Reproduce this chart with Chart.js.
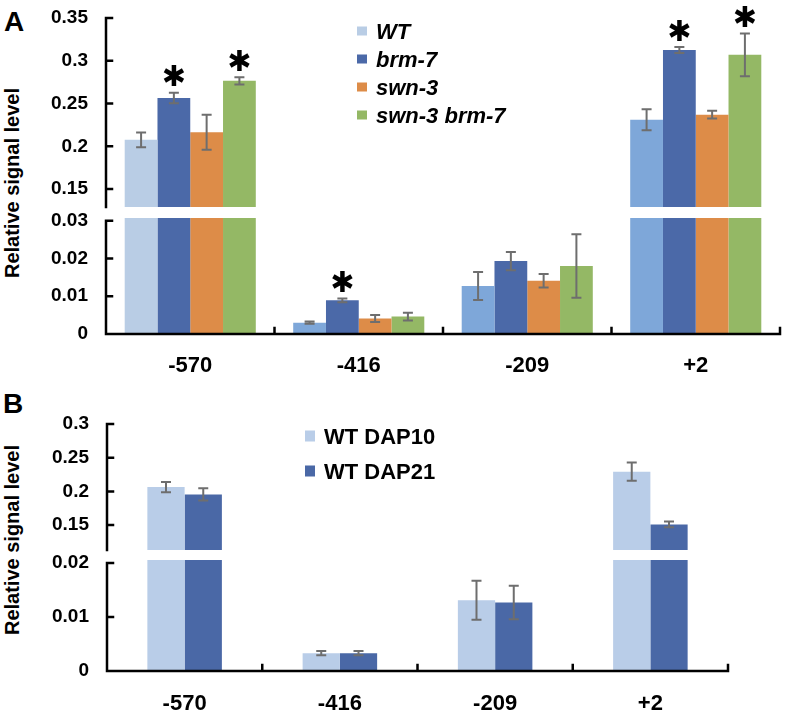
<!DOCTYPE html>
<html>
<head>
<meta charset="utf-8">
<script src="https://cdn.jsdelivr.net/npm/chart.js@4.4.0/dist/chart.umd.min.js"></script>
<style>
  body { margin: 0; background: #fff; }
  #wrap { position: relative; width: 785px; height: 711px; overflow: hidden; font-family: "Liberation Sans", Arial, sans-serif; }
  canvas { position: absolute; left: 0; }
  .panel { position: absolute; font-weight: bold; font-size: 28px; line-height: 1; transform: translate(-50%, -50%); }
  .ytitle { position: absolute; font-weight: bold; font-size: 20px; line-height: 1; white-space: nowrap; transform: translate(-50%, -50%) rotate(-90deg); }
</style>
</head>
<body>
<div id="wrap">
  <div class="panel" style="left:14px;top:22px">A</div>
  <div class="panel" style="left:13px;top:404px">B</div>
  <div class="ytitle" style="left:12px;top:183px">Relative signal level</div>
  <div class="ytitle" style="left:12px;top:540px">Relative signal level</div>
  <canvas id="aTop" width="785" height="213" style="top:6px"></canvas>
  <canvas id="aLow" width="785" height="174" style="top:206px"></canvas>
  <canvas id="bTop" width="785" height="150" style="top:412px"></canvas>
  <canvas id="bLow" width="785" height="163" style="top:548px"></canvas>
</div>
<script>
const sites = ["-570", "-416", "-209", "+2"];

// panel A
const genotypes = ["WT", "brm-7", "swn-3", "swn-3 brm-7"];
const wt = [0.2075, 0.003, 0.0127, 0.231];
const wtErr = [0.0085, 0.0003, 0.0037, 0.0123];
const brm7 = [0.2565, 0.0089, 0.0193, 0.3125];
const brm7Err = [0.0062, 0.0005, 0.0024, 0.0035];
const swn3 = [0.2165, 0.0041, 0.0141, 0.237];
const swn3Err = [0.0205, 0.0009, 0.0018, 0.0045];
const swn3brm7 = [0.2765, 0.0046, 0.018, 0.307];
const swn3brm7Err = [0.0042, 0.001, 0.0084, 0.025];
// asterisks (significant vs WT)
const brm7Star = [true, true, false, true];
const swn3brm7Star = [true, false, false, true];
const aTopTicks = [0.15, 0.2, 0.25, 0.3, 0.35];
const aLowTicks = [0, 0.01, 0.02, 0.03];

// panel B
const stages = ["WT DAP10", "WT DAP21"];
const dap10 = [0.2064, 0.0033, 0.0131, 0.2292];
const dap10Err = [0.0077, 0.0004, 0.0036, 0.0135];
const dap21 = [0.1955, 0.0033, 0.0127, 0.151];
const dap21Err = [0.009, 0.0004, 0.0031, 0.0043];
const bTopTicks = [0.15, 0.2, 0.25, 0.3];
const bLowTicks = [0, 0.01, 0.02];

const FONT = "Liberation Sans, Arial, sans-serif";

// axis lines with inward ticks
function drawAxes(chart, opts) {
  const ctx = chart.ctx;
  const area = chart.chartArea;
  const x = chart.scales.x;
  const y = chart.scales.y;
  const yTop = y.getPixelForValue(y.ticks[y.ticks.length - 1].value);
  ctx.save();
  ctx.strokeStyle = "#000";
  ctx.lineWidth = 2.5;
  ctx.lineCap = "square";
  ctx.beginPath();
  ctx.moveTo(area.left, yTop);
  ctx.lineTo(area.left, area.bottom);
  y.ticks.forEach(t => {
    const py = y.getPixelForValue(t.value);
    ctx.moveTo(area.left, py);
    ctx.lineTo(area.left + 6, py);
  });
  if (opts.xAxis) {
    ctx.moveTo(area.left, area.bottom);
    ctx.lineTo(area.right, area.bottom);
    for (let i = 1; i <= chart.data.labels.length; i++) {
      const px = x.getPixelForValue(i - 0.5);
      ctx.moveTo(px, area.bottom);
      ctx.lineTo(px, area.bottom - 6);
    }
  }
  ctx.stroke();
  ctx.restore();
}

// error bars, asterisks, legend
const marksPlugin = {
  id: "marks",
  afterDraw(chart, args, opts) {
    const ctx = chart.ctx;
    const area = chart.chartArea;
    const y = chart.scales.y;

    ctx.save();
    ctx.beginPath();
    ctx.rect(area.left, area.top, area.right - area.left, area.bottom - area.top);
    ctx.clip();
    ctx.strokeStyle = "#6e6e6e";
    ctx.lineWidth = 2;
    chart.data.datasets.forEach((ds, i) => {
      chart.getDatasetMeta(i).data.forEach((bar, j) => {
        const hi = y.getPixelForValue(ds.data[j] + ds.err[j]);
        const lo = y.getPixelForValue(ds.data[j] - ds.err[j]);
        ctx.beginPath();
        ctx.moveTo(bar.x, hi);
        ctx.lineTo(bar.x, lo);
        ctx.moveTo(bar.x - 5, hi);
        ctx.lineTo(bar.x + 5, hi);
        ctx.moveTo(bar.x - 5, lo);
        ctx.lineTo(bar.x + 5, lo);
        ctx.stroke();
      });
    });
    ctx.restore();

    drawAxes(chart, opts);

    // asterisks
    ctx.save();
    ctx.fillStyle = "#000";
    ctx.textAlign = "center";
    ctx.font = "bold 100px DejaVu Sans";
    const m0 = ctx.measureText("✱");
    const size = 100 * 21 / (m0.actualBoundingBoxAscent + m0.actualBoundingBoxDescent);
    ctx.font = "bold " + size.toFixed(1) + "px DejaVu Sans";
    const m = ctx.measureText("✱");
    chart.data.datasets.forEach((ds, i) => {
      if (!ds.stars) return;
      chart.getDatasetMeta(i).data.forEach((bar, j) => {
        const v = ds.data[j];
        if (!ds.stars[j] || v < y.min || v > y.max) return;
        const cy = y.getPixelForValue(v + ds.err[j]) - 17;
        ctx.fillText("✱", bar.x, cy + (m.actualBoundingBoxAscent - m.actualBoundingBoxDescent) / 2);
      });
    });
    ctx.restore();

    if (opts.legend) {
      const lg = opts.legend;
      ctx.save();
      ctx.font = lg.font;
      ctx.textBaseline = "middle";
      chart.data.datasets.forEach((ds, i) => {
        const ry = lg.y + i * lg.step;
        ctx.fillStyle = ds.legendColor || ds.backgroundColor;
        ctx.fillRect(lg.x, ry - lg.box / 2 - 2, 10, lg.box);
        ctx.fillStyle = "#000";
        ctx.fillText(ds.label, lg.x + 19, ry);
      });
      ctx.restore();
    }
  }
};

function segment(id, datasets, lim, ticks, o) {
  return new Chart(document.getElementById(id), {
    type: "bar",
    data: { labels: sites, datasets },
    options: {
      responsive: false,
      animation: false,
      layout: { padding: { top: 12, right: o.right, bottom: o.xAxis ? 0 : 12, left: 0 } },
      datasets: { bar: { categoryPercentage: o.cat, barPercentage: 1, clip: 0 } },
      scales: {
        x: {
          display: o.xAxis,
          grid: { display: false, drawTicks: false },
          border: { display: false },
          ticks: { color: "#000", padding: o.xPad || 0, font: { family: FONT, size: 22, weight: "bold" } },
          afterFit: s => { if (o.xAxis) s.height = o.xH; }
        },
        y: {
          min: lim[0],
          max: lim[1],
          grid: { display: false, drawTicks: false },
          border: { display: false },
          afterBuildTicks: s => { s.ticks = ticks.map(v => ({ value: v })); },
          afterFit: s => { s.width = o.yW; s.paddingTop = 10; s.paddingBottom = 10; },
          ticks: { color: "#000", padding: 18, font: { family: FONT, size: 19, weight: "bold" }, callback: v => String(v) }
        }
      },
      plugins: { legend: { display: false }, tooltip: { enabled: false }, marks: o }
    },
    plugins: [marksPlugin]
  });
}

const aSets = () => [
  { label: genotypes[0], data: wt, err: wtErr, backgroundColor: ["#b9cde5", "#7ea7d9", "#7ea7d9", "#7ea7d9"], legendColor: "#b9cde5" },
  { label: genotypes[1], data: brm7, err: brm7Err, stars: brm7Star, backgroundColor: "#4b69a8" },
  { label: genotypes[2], data: swn3, err: swn3Err, backgroundColor: "#dd8c48" },
  { label: genotypes[3], data: swn3brm7, err: swn3brm7Err, stars: swn3brm7Star, backgroundColor: "#94b865" }
];
const bSets = () => [
  { label: stages[0], data: dap10, err: dap10Err, backgroundColor: "#b9cde8" },
  { label: stages[1], data: dap21, err: dap21Err, backgroundColor: "#4a68a6" }
];

segment("aTop", aSets(), [0.129, 0.35], aTopTicks, {
  right: 5, cat: 0.778, yW: 106, xAxis: false,
  legend: { x: 357, y: 27, step: 28, box: 9, font: "italic bold 22px " + FONT }
});
segment("aLow", aSets(), [0, 0.0307], aLowTicks, { right: 5, cat: 0.778, yW: 106, xAxis: true, xH: 46, xPad: 19 });
segment("bTop", bSets(), [0.113, 0.3], bTopTicks, {
  right: 57, cat: 0.48, yW: 107, xAxis: false,
  legend: { x: 305, y: 26, step: 35, box: 11, font: "bold 22px " + FONT }
});
segment("bLow", bSets(), [0, 0.02056], bLowTicks, { right: 57, cat: 0.48, yW: 107, xAxis: true, xH: 40, xPad: 20 });
</script>
</body>
</html>
